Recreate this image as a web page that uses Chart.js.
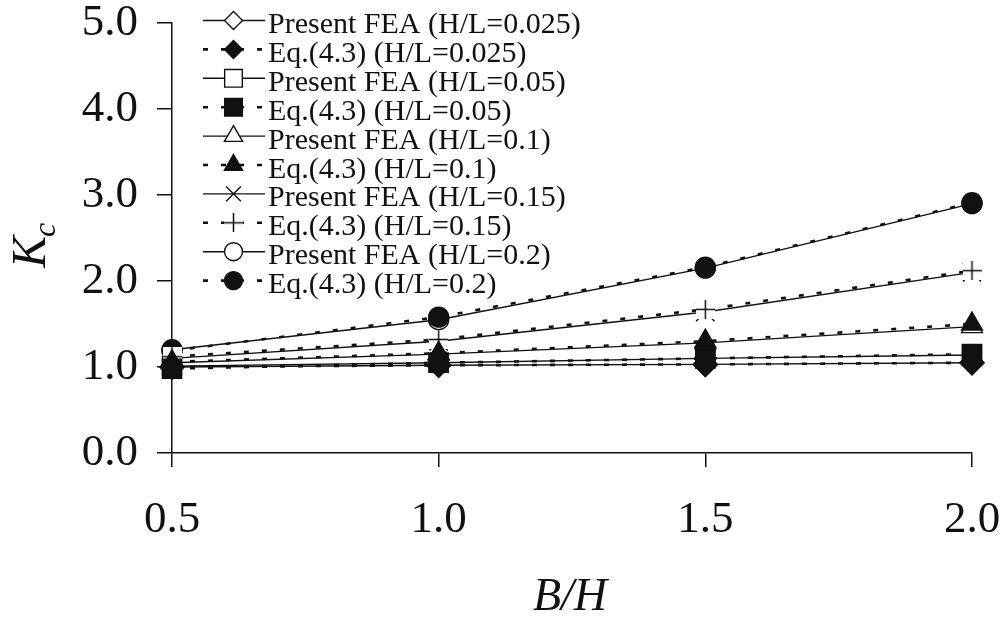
<!DOCTYPE html>
<html><head><meta charset="utf-8">
<script src="https://cdn.jsdelivr.net/npm/chart.js@4.4.1/dist/chart.umd.min.js"></script>
<style>html,body{margin:0;padding:0;background:#fff}#wrap{width:1004px;height:619px;position:relative}</style>
</head><body><div id="wrap"><canvas id="c" width="1004" height="619"></canvas></div>
<script>
// ---- data ----
const bh = [0.5, 1.0, 1.5, 2.0];
const fea025 = [1.00, 1.02, 1.03, 1.05];
const eq025  = [1.00, 1.02, 1.03, 1.05];
const fea05  = [1.01, 1.05, 1.10, 1.14];
const eq05   = [0.98, 1.05, 1.10, 1.15];
const fea10  = [1.05, 1.15, 1.28, 1.47];
const eq10   = [1.06, 1.16, 1.30, 1.50];
const fea15  = [1.10, 1.30, 1.64, 2.10];
const eq15   = [1.12, 1.32, 1.67, 2.12];
const fea20  = [1.20, 1.55, 2.15, 2.90];
const eq20   = [1.19, 1.58, 2.16, 2.91];
const seriesLabels = [
  'Present FEA (H/L=0.025)', 'Eq.(4.3) (H/L=0.025)',
  'Present FEA (H/L=0.05)',  'Eq.(4.3) (H/L=0.05)',
  'Present FEA (H/L=0.1)',   'Eq.(4.3) (H/L=0.1)',
  'Present FEA (H/L=0.15)',  'Eq.(4.3) (H/L=0.15)',
  'Present FEA (H/L=0.2)',   'Eq.(4.3) (H/L=0.2)'
];
const xTicks = [0.5, 1.0, 1.5, 2.0];
const yTicks = [0, 1, 2, 3, 4, 5];
const xTitle = 'B/H';
const yTitleMain = 'K';
const yTitleSub = 'c';

// ---- styling ----
const INK = '#111';
const serif = '"Liberation Serif", "Times New Roman", serif';

// "+" marker with a white background box (as in the original spreadsheet chart)
function plusMarker(size) {
  const c = document.createElement('canvas');
  c.width = size; c.height = size;
  const g = c.getContext('2d');
  g.fillStyle = '#fff';
  g.fillRect(0, 0, size, size);
  g.strokeStyle = INK;
  g.lineWidth = 1.5;
  g.beginPath();
  g.moveTo(size / 2, 0); g.lineTo(size / 2, size);
  g.moveTo(0, size / 2); g.lineTo(size, size / 2);
  g.stroke();
  return c;
}
const plusImg = plusMarker(19);

const values = [fea025, eq025, fea05, eq05, fea10, eq10, fea15, eq15, fea20, eq20];
const styles = ['rectRot','rectRot','rect','rect','triangle','triangle','crossRot','plus','circle','circle'];
const radii  = [12, 12, 13.5, 13.5, 12, 12, 13, 10, 10, 10];
const legendRadii = [9, 9, 12.5, 12.5, 10.5, 10.5, 10.5, 10, 9, 9];

const datasets = values.map((arr, i) => {
  const isEq = i % 2 === 1;
  return {
    label: seriesLabels[i],
    data: arr.map((v, k) => ({x: bh[k], y: v})),
    showLine: true,
    fill: false,
    tension: 0,
    borderColor: INK,
    borderWidth: isEq ? 2.6 : 1.4,
    borderDash: isEq ? [5, 13] : [],
    pointStyle: styles[i] === 'plus' ? plusImg : styles[i],
    pointRadius: radii[i],
    pointHoverRadius: radii[i],
    pointBackgroundColor: isEq ? INK : '#fff',
    pointBorderColor: INK,
    pointBorderWidth: 1.4,
    clip: false,
    order: isEq ? 0 : 1
  };
});

const legendAndTitles = {
  id: 'legendAndTitles',
  afterDraw(chart) {
    const ctx = chart.ctx;
    const dp = Chart.helpers && Chart.helpers.drawPoint;
    ctx.save();
    chart.data.datasets.forEach((ds, i) => {
      const y = 20.5 + i * 28.9;
      ctx.save();
      ctx.strokeStyle = ds.borderColor;
      ctx.lineWidth = ds.borderWidth;
      ctx.setLineDash(ds.borderDash);
      ctx.beginPath();
      ctx.moveTo(203, y);
      ctx.lineTo(265, y);
      ctx.stroke();
      ctx.restore();
      if (dp) {
        ctx.save();
        ctx.fillStyle = ds.pointBackgroundColor;
        ctx.strokeStyle = ds.pointBorderColor;
        ctx.lineWidth = ds.pointBorderWidth;
        ctx.setLineDash([]);
        dp(ctx, {pointStyle: ds.pointStyle, rotation: 0, radius: legendRadii[i], borderWidth: ds.pointBorderWidth}, 233.5, y);
        ctx.restore();
      }
      ctx.fillStyle = INK;
      ctx.font = '30px ' + serif;
      ctx.textAlign = 'left';
      ctx.textBaseline = 'alphabetic';
      ctx.fillText(ds.label, 268, y + 12.5);
    });
    // x title
    ctx.fillStyle = INK;
    ctx.font = 'italic 46px ' + serif;
    ctx.textAlign = 'center';
    ctx.textBaseline = 'alphabetic';
    ctx.fillText(xTitle, 570, 610);
    // y title (rotated) K_c
    ctx.save();
    ctx.translate(45, 268);
    ctx.rotate(-Math.PI / 2);
    ctx.textAlign = 'left';
    ctx.font = 'italic 48px ' + serif;
    ctx.fillText(yTitleMain, 0, 0);
    ctx.font = 'italic 32px ' + serif;
    ctx.fillText(yTitleSub, 31, 10);
    ctx.restore();
    ctx.restore();
  }
};

new Chart(document.getElementById('c'), {
  type: 'scatter',
  data: { datasets },
  options: {
    responsive: false,
    animation: false,
    devicePixelRatio: 1,
    layout: { padding: { left: 0, right: 32, top: 23, bottom: 0 } },
    plugins: { legend: { display: false }, tooltip: { enabled: false } },
    scales: {
      x: {
        type: 'linear',
        min: xTicks[0], max: xTicks[xTicks.length - 1],
        afterBuildTicks: s => { s.ticks = xTicks.map(v => ({value: v})); },
        afterFit: s => { s.height = 166; s.paddingLeft = 0; s.paddingRight = 0; },
        ticks: { color: INK, font: { family: serif, size: 45, lineHeight: 1.0 }, padding: 31, maxRotation: 0,
                 callback: v => Number(v).toFixed(1) },
        grid: { drawOnChartArea: false, drawTicks: true, tickLength: 14, color: INK, lineWidth: 1.5 },
        border: { display: true, color: INK, width: 1.5 },
        title: { display: false }
      },
      y: {
        type: 'linear',
        min: yTicks[0], max: yTicks[yTicks.length - 1],
        afterBuildTicks: s => { s.ticks = yTicks.map(v => ({value: v})); },
        afterFit: s => { s.width = 172; s.paddingTop = 0; s.paddingBottom = 0; },
        ticks: { color: INK, font: { family: serif, size: 45, lineHeight: 1.0 }, padding: 19,
                 callback: v => Number(v).toFixed(1) },
        grid: { drawOnChartArea: false, drawTicks: true, tickLength: 15, color: INK, lineWidth: 1.5 },
        border: { display: true, color: INK, width: 1.5 },
        title: { display: false }
      }
    }
  },
  plugins: [legendAndTitles]
});
</script>
</body></html>
